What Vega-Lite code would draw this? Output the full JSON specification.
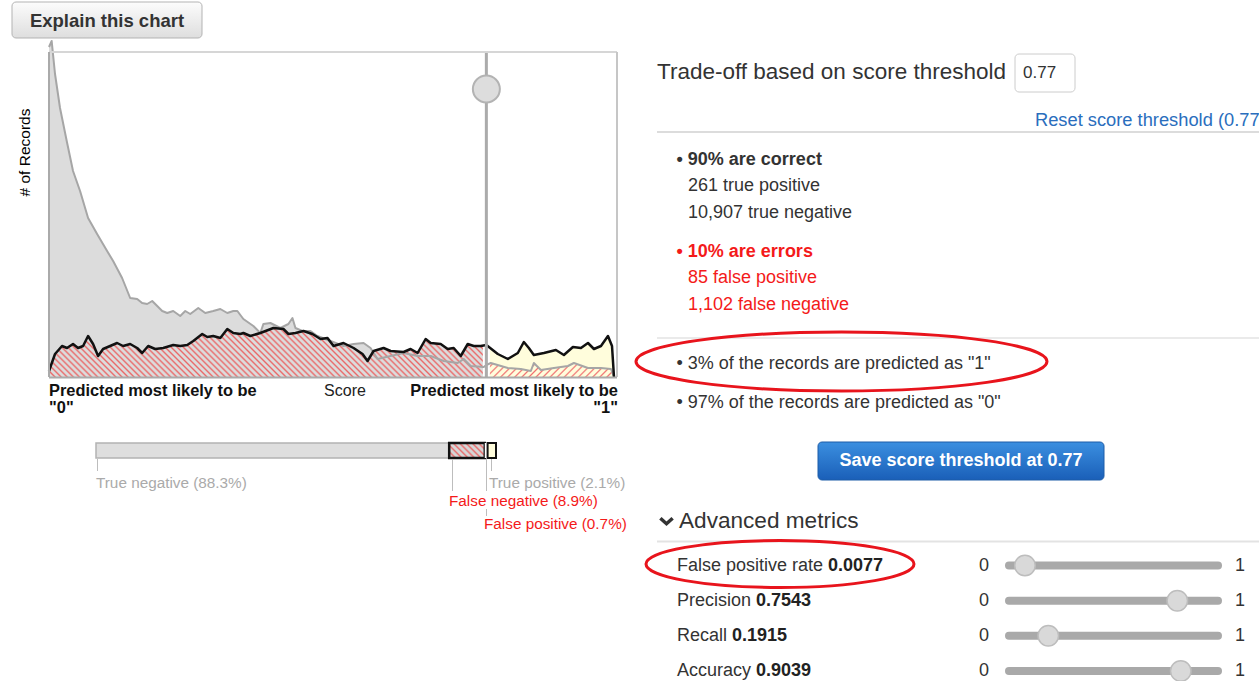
{
  "$schema": "https://vega.github.io/schema/vega-lite/v6.json",
  "width": 1259,
  "height": 681,
  "padding": 0,
  "autosize": {"type": "none"},
  "background": "#ffffff",
  "config": {"view": {"stroke": null}, "font": "Liberation Sans", "axis": {"disable": true}},
  "data": {"values": [{}]},
  "datasets": {
    "neg": [
      {"score": 0, "count": 330}, {"score": 0.0047, "count": 336}, {"score": 0.0106, "count": 303}, {"score": 0.0194, "count": 269},
      {"score": 0.0312, "count": 236}, {"score": 0.0423, "count": 206}, {"score": 0.0547, "count": 186}, {"score": 0.0688, "count": 159},
      {"score": 0.0847, "count": 143}, {"score": 0.1023, "count": 126}, {"score": 0.1129, "count": 116}, {"score": 0.1287, "count": 99},
      {"score": 0.1429, "count": 79}, {"score": 0.1552, "count": 78}, {"score": 0.164, "count": 74}, {"score": 0.1728, "count": 73},
      {"score": 0.1817, "count": 76}, {"score": 0.1905, "count": 71}, {"score": 0.1993, "count": 66}, {"score": 0.2081, "count": 64},
      {"score": 0.2187, "count": 66}, {"score": 0.231, "count": 61}, {"score": 0.2399, "count": 66}, {"score": 0.2487, "count": 63},
      {"score": 0.2628, "count": 69}, {"score": 0.2751, "count": 64}, {"score": 0.2892, "count": 66}, {"score": 0.3016, "count": 68},
      {"score": 0.3139, "count": 64}, {"score": 0.3245, "count": 66}, {"score": 0.3316, "count": 66}, {"score": 0.3422, "count": 58},
      {"score": 0.3598, "count": 51}, {"score": 0.3721, "count": 44}, {"score": 0.3774, "count": 53}, {"score": 0.3898, "count": 54},
      {"score": 0.4074, "count": 49}, {"score": 0.4215, "count": 53}, {"score": 0.4286, "count": 59}, {"score": 0.4339, "count": 49},
      {"score": 0.4462, "count": 46}, {"score": 0.4603, "count": 46}, {"score": 0.4727, "count": 41}, {"score": 0.4956, "count": 36},
      {"score": 0.5185, "count": 31}, {"score": 0.5362, "count": 33}, {"score": 0.5538, "count": 34}, {"score": 0.5661, "count": 29},
      {"score": 0.5785, "count": 18}, {"score": 0.6014, "count": 21}, {"score": 0.6243, "count": 24}, {"score": 0.649, "count": 21},
      {"score": 0.672, "count": 21}, {"score": 0.6949, "count": 16}, {"score": 0.7196, "count": 14}, {"score": 0.7302, "count": 18},
      {"score": 0.7425, "count": 11}, {"score": 0.7654, "count": 10}, {"score": 0.77, "count": 12}, {"score": 0.7778, "count": 14},
      {"score": 0.8078, "count": 9}, {"score": 0.8307, "count": 8}, {"score": 0.8483, "count": 6}, {"score": 0.8536, "count": 14},
      {"score": 0.866, "count": 7}, {"score": 0.8889, "count": 9}, {"score": 0.9136, "count": 11}, {"score": 0.9242, "count": 14},
      {"score": 0.9489, "count": 9}, {"score": 0.9718, "count": 9}, {"score": 0.9894, "count": 8}, {"score": 0.9947, "count": 0}
    ],
    "pos": [
      {"score": 0, "count": 6}, {"score": 0.0106, "count": 23}, {"score": 0.0229, "count": 31}, {"score": 0.0317, "count": 29},
      {"score": 0.0423, "count": 33}, {"score": 0.0511, "count": 29}, {"score": 0.06, "count": 31}, {"score": 0.0688, "count": 41},
      {"score": 0.0776, "count": 33}, {"score": 0.0864, "count": 21}, {"score": 0.0952, "count": 28}, {"score": 0.1076, "count": 31},
      {"score": 0.1199, "count": 34}, {"score": 0.1305, "count": 31}, {"score": 0.1429, "count": 33}, {"score": 0.1552, "count": 29},
      {"score": 0.164, "count": 24}, {"score": 0.1746, "count": 31}, {"score": 0.1869, "count": 28}, {"score": 0.2011, "count": 29},
      {"score": 0.2187, "count": 32}, {"score": 0.231, "count": 31}, {"score": 0.2434, "count": 32}, {"score": 0.254, "count": 36},
      {"score": 0.2698, "count": 43}, {"score": 0.2787, "count": 40}, {"score": 0.2892, "count": 41}, {"score": 0.3016, "count": 39},
      {"score": 0.3139, "count": 48}, {"score": 0.3245, "count": 44}, {"score": 0.3369, "count": 43}, {"score": 0.3422, "count": 44},
      {"score": 0.3545, "count": 41}, {"score": 0.3721, "count": 44}, {"score": 0.3951, "count": 49}, {"score": 0.4127, "count": 48},
      {"score": 0.4215, "count": 43}, {"score": 0.4339, "count": 44}, {"score": 0.448, "count": 46}, {"score": 0.4638, "count": 43},
      {"score": 0.478, "count": 38}, {"score": 0.4903, "count": 39}, {"score": 0.5009, "count": 31}, {"score": 0.5185, "count": 34},
      {"score": 0.5362, "count": 29}, {"score": 0.552, "count": 23}, {"score": 0.5608, "count": 16}, {"score": 0.5714, "count": 26},
      {"score": 0.589, "count": 29}, {"score": 0.6014, "count": 26}, {"score": 0.6243, "count": 25}, {"score": 0.6367, "count": 28},
      {"score": 0.649, "count": 24}, {"score": 0.6631, "count": 38}, {"score": 0.672, "count": 34}, {"score": 0.6896, "count": 33},
      {"score": 0.7019, "count": 28}, {"score": 0.7125, "count": 29}, {"score": 0.7249, "count": 21}, {"score": 0.7372, "count": 33},
      {"score": 0.7478, "count": 31}, {"score": 0.7601, "count": 31}, {"score": 0.77, "count": 32}, {"score": 0.7901, "count": 23},
      {"score": 0.8078, "count": 18}, {"score": 0.8254, "count": 24}, {"score": 0.836, "count": 35}, {"score": 0.8448, "count": 29},
      {"score": 0.8536, "count": 22}, {"score": 0.8713, "count": 24}, {"score": 0.8924, "count": 27}, {"score": 0.9065, "count": 22},
      {"score": 0.9224, "count": 30}, {"score": 0.9365, "count": 29}, {"score": 0.9489, "count": 34}, {"score": 0.9594, "count": 28},
      {"score": 0.9718, "count": 31}, {"score": 0.9841, "count": 41}, {"score": 0.9912, "count": 31}, {"score": 0.9947, "count": 0}
    ],
    "conf": [
      {"cls": "True negative", "pct": 88.3},
      {"cls": "False negative", "pct": 8.9},
      {"cls": "False positive", "pct": 0.7},
      {"cls": "True positive", "pct": 2.1}
    ],
    "metrics": [
      {"metric": "False positive rate", "value": "0.0077", "knob": 0.092},
      {"metric": "Precision", "value": "0.7543", "knob": 0.794},
      {"metric": "Recall", "value": "0.1915", "knob": 0.1995},
      {"metric": "Accuracy", "value": "0.9039", "knob": 0.81}
    ]
  },
  "layer": [
    {
      "layer": [
        {
          "data": {"name": "neg"},
          "transform": [{"filter": "datum.score <= 0.77"}],
          "mark": {"type": "area", "fill": "#dcdcdc"},
          "encoding": {
            "x": {"field": "score", "type": "quantitative", "scale": {"domain": [0, 1], "range": [49, 617], "nice": false, "zero": false}, "axis": null},
            "y": {"field": "count", "type": "quantitative", "scale": {"domain": [0, 324], "range": [377, 53], "nice": false}, "axis": null}
          }
        },
        {
          "data": {"name": "pos"},
          "transform": [{"filter": "datum.score <= 0.77"}],
          "mark": {"type": "area", "fill": {"gradient": "linear", "x1": 0, "y1": 1, "x2": 1.0982, "y2": 0.877, "stops": [
            {"offset":0,"color":"#ea6868"},{"offset":0.004,"color":"#dcdcdc"},{"offset":0.0085,"color":"#dcdcdc"},{"offset":0.0125,"color":"#ea6868"},{"offset":0.0165,"color":"#dcdcdc"},{"offset":0.021,"color":"#dcdcdc"},{"offset":0.025,"color":"#ea6868"},{"offset":0.029,"color":"#dcdcdc"},{"offset":0.0335,"color":"#dcdcdc"},{"offset":0.0375,"color":"#ea6868"},{"offset":0.0415,"color":"#dcdcdc"},{"offset":0.046,"color":"#dcdcdc"},
            {"offset":0.05,"color":"#ea6868"},{"offset":0.054,"color":"#dcdcdc"},{"offset":0.0585,"color":"#dcdcdc"},{"offset":0.0625,"color":"#ea6868"},{"offset":0.0665,"color":"#dcdcdc"},{"offset":0.071,"color":"#dcdcdc"},{"offset":0.075,"color":"#ea6868"},{"offset":0.079,"color":"#dcdcdc"},{"offset":0.0835,"color":"#dcdcdc"},{"offset":0.0875,"color":"#ea6868"},{"offset":0.0915,"color":"#dcdcdc"},{"offset":0.096,"color":"#dcdcdc"},
            {"offset":0.1,"color":"#ea6868"},{"offset":0.104,"color":"#dcdcdc"},{"offset":0.1085,"color":"#dcdcdc"},{"offset":0.1125,"color":"#ea6868"},{"offset":0.1165,"color":"#dcdcdc"},{"offset":0.121,"color":"#dcdcdc"},{"offset":0.125,"color":"#ea6868"},{"offset":0.129,"color":"#dcdcdc"},{"offset":0.1335,"color":"#dcdcdc"},{"offset":0.1375,"color":"#ea6868"},{"offset":0.1415,"color":"#dcdcdc"},{"offset":0.146,"color":"#dcdcdc"},
            {"offset":0.15,"color":"#ea6868"},{"offset":0.154,"color":"#dcdcdc"},{"offset":0.1585,"color":"#dcdcdc"},{"offset":0.1625,"color":"#ea6868"},{"offset":0.1665,"color":"#dcdcdc"},{"offset":0.171,"color":"#dcdcdc"},{"offset":0.175,"color":"#ea6868"},{"offset":0.179,"color":"#dcdcdc"},{"offset":0.1835,"color":"#dcdcdc"},{"offset":0.1875,"color":"#ea6868"},{"offset":0.1915,"color":"#dcdcdc"},{"offset":0.196,"color":"#dcdcdc"},
            {"offset":0.2,"color":"#ea6868"},{"offset":0.204,"color":"#dcdcdc"},{"offset":0.2085,"color":"#dcdcdc"},{"offset":0.2125,"color":"#ea6868"},{"offset":0.2165,"color":"#dcdcdc"},{"offset":0.221,"color":"#dcdcdc"},{"offset":0.225,"color":"#ea6868"},{"offset":0.229,"color":"#dcdcdc"},{"offset":0.2335,"color":"#dcdcdc"},{"offset":0.2375,"color":"#ea6868"},{"offset":0.2415,"color":"#dcdcdc"},{"offset":0.246,"color":"#dcdcdc"},
            {"offset":0.25,"color":"#ea6868"},{"offset":0.254,"color":"#dcdcdc"},{"offset":0.2585,"color":"#dcdcdc"},{"offset":0.2625,"color":"#ea6868"},{"offset":0.2665,"color":"#dcdcdc"},{"offset":0.271,"color":"#dcdcdc"},{"offset":0.275,"color":"#ea6868"},{"offset":0.279,"color":"#dcdcdc"},{"offset":0.2835,"color":"#dcdcdc"},{"offset":0.2875,"color":"#ea6868"},{"offset":0.2915,"color":"#dcdcdc"},{"offset":0.296,"color":"#dcdcdc"},
            {"offset":0.3,"color":"#ea6868"},{"offset":0.304,"color":"#dcdcdc"},{"offset":0.3085,"color":"#dcdcdc"},{"offset":0.3125,"color":"#ea6868"},{"offset":0.3165,"color":"#dcdcdc"},{"offset":0.321,"color":"#dcdcdc"},{"offset":0.325,"color":"#ea6868"},{"offset":0.329,"color":"#dcdcdc"},{"offset":0.3335,"color":"#dcdcdc"},{"offset":0.3375,"color":"#ea6868"},{"offset":0.3415,"color":"#dcdcdc"},{"offset":0.346,"color":"#dcdcdc"},
            {"offset":0.35,"color":"#ea6868"},{"offset":0.354,"color":"#dcdcdc"},{"offset":0.3585,"color":"#dcdcdc"},{"offset":0.3625,"color":"#ea6868"},{"offset":0.3665,"color":"#dcdcdc"},{"offset":0.371,"color":"#dcdcdc"},{"offset":0.375,"color":"#ea6868"},{"offset":0.379,"color":"#dcdcdc"},{"offset":0.3835,"color":"#dcdcdc"},{"offset":0.3875,"color":"#ea6868"},{"offset":0.3915,"color":"#dcdcdc"},{"offset":0.396,"color":"#dcdcdc"},
            {"offset":0.4,"color":"#ea6868"},{"offset":0.404,"color":"#dcdcdc"},{"offset":0.4085,"color":"#dcdcdc"},{"offset":0.4125,"color":"#ea6868"},{"offset":0.4165,"color":"#dcdcdc"},{"offset":0.421,"color":"#dcdcdc"},{"offset":0.425,"color":"#ea6868"},{"offset":0.429,"color":"#dcdcdc"},{"offset":0.4335,"color":"#dcdcdc"},{"offset":0.4375,"color":"#ea6868"},{"offset":0.4415,"color":"#dcdcdc"},{"offset":0.446,"color":"#dcdcdc"},
            {"offset":0.45,"color":"#ea6868"},{"offset":0.454,"color":"#dcdcdc"},{"offset":0.4585,"color":"#dcdcdc"},{"offset":0.4625,"color":"#ea6868"},{"offset":0.4665,"color":"#dcdcdc"},{"offset":0.471,"color":"#dcdcdc"},{"offset":0.475,"color":"#ea6868"},{"offset":0.479,"color":"#dcdcdc"},{"offset":0.4835,"color":"#dcdcdc"},{"offset":0.4875,"color":"#ea6868"},{"offset":0.4915,"color":"#dcdcdc"},{"offset":0.496,"color":"#dcdcdc"},
            {"offset":0.5,"color":"#ea6868"},{"offset":0.504,"color":"#dcdcdc"},{"offset":0.5085,"color":"#dcdcdc"},{"offset":0.5125,"color":"#ea6868"},{"offset":0.5165,"color":"#dcdcdc"},{"offset":0.521,"color":"#dcdcdc"},{"offset":0.525,"color":"#ea6868"},{"offset":0.529,"color":"#dcdcdc"},{"offset":0.5335,"color":"#dcdcdc"},{"offset":0.5375,"color":"#ea6868"},{"offset":0.5415,"color":"#dcdcdc"},{"offset":0.546,"color":"#dcdcdc"},
            {"offset":0.55,"color":"#ea6868"},{"offset":0.554,"color":"#dcdcdc"},{"offset":0.5585,"color":"#dcdcdc"},{"offset":0.5625,"color":"#ea6868"},{"offset":0.5665,"color":"#dcdcdc"},{"offset":0.571,"color":"#dcdcdc"},{"offset":0.575,"color":"#ea6868"},{"offset":0.579,"color":"#dcdcdc"},{"offset":0.5835,"color":"#dcdcdc"},{"offset":0.5875,"color":"#ea6868"},{"offset":0.5915,"color":"#dcdcdc"},{"offset":0.596,"color":"#dcdcdc"},
            {"offset":0.6,"color":"#ea6868"},{"offset":0.604,"color":"#dcdcdc"},{"offset":0.6085,"color":"#dcdcdc"},{"offset":0.6125,"color":"#ea6868"},{"offset":0.6165,"color":"#dcdcdc"},{"offset":0.621,"color":"#dcdcdc"},{"offset":0.625,"color":"#ea6868"},{"offset":0.629,"color":"#dcdcdc"},{"offset":0.6335,"color":"#dcdcdc"},{"offset":0.6375,"color":"#ea6868"},{"offset":0.6415,"color":"#dcdcdc"},{"offset":0.646,"color":"#dcdcdc"},
            {"offset":0.65,"color":"#ea6868"},{"offset":0.654,"color":"#dcdcdc"},{"offset":0.6585,"color":"#dcdcdc"},{"offset":0.6625,"color":"#ea6868"},{"offset":0.6665,"color":"#dcdcdc"},{"offset":0.671,"color":"#dcdcdc"},{"offset":0.675,"color":"#ea6868"},{"offset":0.679,"color":"#dcdcdc"},{"offset":0.6835,"color":"#dcdcdc"},{"offset":0.6875,"color":"#ea6868"},{"offset":0.6915,"color":"#dcdcdc"},{"offset":0.696,"color":"#dcdcdc"},
            {"offset":0.7,"color":"#ea6868"},{"offset":0.704,"color":"#dcdcdc"},{"offset":0.7085,"color":"#dcdcdc"},{"offset":0.7125,"color":"#ea6868"},{"offset":0.7165,"color":"#dcdcdc"},{"offset":0.721,"color":"#dcdcdc"},{"offset":0.725,"color":"#ea6868"},{"offset":0.729,"color":"#dcdcdc"},{"offset":0.7335,"color":"#dcdcdc"},{"offset":0.7375,"color":"#ea6868"},{"offset":0.7415,"color":"#dcdcdc"},{"offset":0.746,"color":"#dcdcdc"},
            {"offset":0.75,"color":"#ea6868"},{"offset":0.754,"color":"#dcdcdc"},{"offset":0.7585,"color":"#dcdcdc"},{"offset":0.7625,"color":"#ea6868"},{"offset":0.7665,"color":"#dcdcdc"},{"offset":0.771,"color":"#dcdcdc"},{"offset":0.775,"color":"#ea6868"},{"offset":0.779,"color":"#dcdcdc"},{"offset":0.7835,"color":"#dcdcdc"},{"offset":0.7875,"color":"#ea6868"},{"offset":0.7915,"color":"#dcdcdc"},{"offset":0.796,"color":"#dcdcdc"},
            {"offset":0.8,"color":"#ea6868"},{"offset":0.804,"color":"#dcdcdc"},{"offset":0.8085,"color":"#dcdcdc"},{"offset":0.8125,"color":"#ea6868"},{"offset":0.8165,"color":"#dcdcdc"},{"offset":0.821,"color":"#dcdcdc"},{"offset":0.825,"color":"#ea6868"},{"offset":0.829,"color":"#dcdcdc"},{"offset":0.8335,"color":"#dcdcdc"},{"offset":0.8375,"color":"#ea6868"},{"offset":0.8415,"color":"#dcdcdc"},{"offset":0.846,"color":"#dcdcdc"},
            {"offset":0.85,"color":"#ea6868"},{"offset":0.854,"color":"#dcdcdc"},{"offset":0.8585,"color":"#dcdcdc"},{"offset":0.8625,"color":"#ea6868"},{"offset":0.8665,"color":"#dcdcdc"},{"offset":0.871,"color":"#dcdcdc"},{"offset":0.875,"color":"#ea6868"},{"offset":0.879,"color":"#dcdcdc"},{"offset":0.8835,"color":"#dcdcdc"},{"offset":0.8875,"color":"#ea6868"},{"offset":0.8915,"color":"#dcdcdc"},{"offset":0.896,"color":"#dcdcdc"},
            {"offset":0.9,"color":"#ea6868"},{"offset":0.904,"color":"#dcdcdc"},{"offset":0.9085,"color":"#dcdcdc"},{"offset":0.9125,"color":"#ea6868"},{"offset":0.9165,"color":"#dcdcdc"},{"offset":0.921,"color":"#dcdcdc"},{"offset":0.925,"color":"#ea6868"},{"offset":0.929,"color":"#dcdcdc"},{"offset":0.9335,"color":"#dcdcdc"},{"offset":0.9375,"color":"#ea6868"},{"offset":0.9415,"color":"#dcdcdc"},{"offset":0.946,"color":"#dcdcdc"},
            {"offset":0.95,"color":"#ea6868"},{"offset":0.954,"color":"#dcdcdc"},{"offset":0.9585,"color":"#dcdcdc"},{"offset":0.9625,"color":"#ea6868"},{"offset":0.9665,"color":"#dcdcdc"},{"offset":0.971,"color":"#dcdcdc"},{"offset":0.975,"color":"#ea6868"},{"offset":0.979,"color":"#dcdcdc"},{"offset":0.9835,"color":"#dcdcdc"},{"offset":0.9875,"color":"#ea6868"},{"offset":0.9915,"color":"#dcdcdc"},{"offset":0.996,"color":"#dcdcdc"},
            {"offset":1,"color":"#ea6868"}
          ]}},
          "encoding": {"x": {"field": "score", "type": "quantitative"}, "y": {"field": "count", "type": "quantitative"}}
        },
        {
          "data": {"name": "pos"},
          "transform": [{"filter": "datum.score >= 0.77"}],
          "mark": {"type": "area", "fill": "#fffddc"},
          "encoding": {"x": {"field": "score", "type": "quantitative"}, "y": {"field": "count", "type": "quantitative"}}
        },
        {
          "data": {"name": "neg"},
          "transform": [{"filter": "datum.score >= 0.77"}],
          "mark": {"type": "area", "fill": {"gradient": "linear", "x1": 0, "y1": 0, "x2": 1.0965, "y2": 0.1203, "stops": [
            {"offset":0,"color":"#f07070"},{"offset":0.012,"color":"#fffddc"},{"offset":0.038,"color":"#fffddc"},
            {"offset":0.05,"color":"#f07070"},{"offset":0.062,"color":"#fffddc"},{"offset":0.088,"color":"#fffddc"},
            {"offset":0.1,"color":"#f07070"},{"offset":0.112,"color":"#fffddc"},{"offset":0.138,"color":"#fffddc"},
            {"offset":0.15,"color":"#f07070"},{"offset":0.162,"color":"#fffddc"},{"offset":0.188,"color":"#fffddc"},
            {"offset":0.2,"color":"#f07070"},{"offset":0.212,"color":"#fffddc"},{"offset":0.238,"color":"#fffddc"},
            {"offset":0.25,"color":"#f07070"},{"offset":0.262,"color":"#fffddc"},{"offset":0.288,"color":"#fffddc"},
            {"offset":0.3,"color":"#f07070"},{"offset":0.312,"color":"#fffddc"},{"offset":0.338,"color":"#fffddc"},
            {"offset":0.35,"color":"#f07070"},{"offset":0.362,"color":"#fffddc"},{"offset":0.388,"color":"#fffddc"},
            {"offset":0.4,"color":"#f07070"},{"offset":0.412,"color":"#fffddc"},{"offset":0.438,"color":"#fffddc"},
            {"offset":0.45,"color":"#f07070"},{"offset":0.462,"color":"#fffddc"},{"offset":0.488,"color":"#fffddc"},
            {"offset":0.5,"color":"#f07070"},{"offset":0.512,"color":"#fffddc"},{"offset":0.538,"color":"#fffddc"},
            {"offset":0.55,"color":"#f07070"},{"offset":0.562,"color":"#fffddc"},{"offset":0.588,"color":"#fffddc"},
            {"offset":0.6,"color":"#f07070"},{"offset":0.612,"color":"#fffddc"},{"offset":0.638,"color":"#fffddc"},
            {"offset":0.65,"color":"#f07070"},{"offset":0.662,"color":"#fffddc"},{"offset":0.688,"color":"#fffddc"},
            {"offset":0.7,"color":"#f07070"},{"offset":0.712,"color":"#fffddc"},{"offset":0.738,"color":"#fffddc"},
            {"offset":0.75,"color":"#f07070"},{"offset":0.762,"color":"#fffddc"},{"offset":0.788,"color":"#fffddc"},
            {"offset":0.8,"color":"#f07070"},{"offset":0.812,"color":"#fffddc"},{"offset":0.838,"color":"#fffddc"},
            {"offset":0.85,"color":"#f07070"},{"offset":0.862,"color":"#fffddc"},{"offset":0.888,"color":"#fffddc"},
            {"offset":0.9,"color":"#f07070"},{"offset":0.912,"color":"#fffddc"},{"offset":0.938,"color":"#fffddc"},
            {"offset":0.95,"color":"#f07070"},{"offset":0.962,"color":"#fffddc"},{"offset":0.988,"color":"#fffddc"},
            {"offset":1,"color":"#f07070"}
          ]}},
          "encoding": {"x": {"field": "score", "type": "quantitative"}, "y": {"field": "count", "type": "quantitative"}}
        },
        {
          "mark": {"type": "rule", "color": "#ffffff", "strokeWidth": 7},
          "encoding": {"x": {"datum": 0.77}, "y": {"datum": 0}, "y2": {"datum": 70}}
        },
        {
          "data": {"name": "neg"},
          "mark": {"type": "line", "color": "#a6a6a6", "strokeWidth": 2, "strokeJoin": "round"},
          "encoding": {"x": {"field": "score", "type": "quantitative"}, "y": {"field": "count", "type": "quantitative"}}
        },
        {
          "data": {"name": "pos"},
          "mark": {"type": "line", "color": "#111111", "strokeWidth": 2.5, "strokeJoin": "round"},
          "encoding": {"x": {"field": "score", "type": "quantitative"}, "y": {"field": "count", "type": "quantitative"}}
        },
        {
          "mark": {"type": "rule", "color": "#ababab", "strokeWidth": 3},
          "encoding": {"x": {"datum": 0.77}, "y": {"datum": 0}, "y2": {"datum": 324}}
        },
        {
          "mark": {"type": "point", "shape": "circle", "size": 729, "filled": true, "fill": "#dddddd", "stroke": "#b3b3b3", "strokeWidth": 2, "opacity": 1},
          "encoding": {"x": {"datum": 0.77}, "y": {"datum": 288}}
        }
      ]
    },
    {
      "data": {"name": "conf"},
      "transform": [{"stack": "pct", "groupby": [], "as": ["p0", "p1"]}],
      "layer": [
        {
          "transform": [{"filter": "datum.cls == 'True negative'"}],
          "mark": {"type": "rect", "fill": "#dedede", "stroke": "#b3b3b3", "strokeWidth": 1.5},
          "encoding": {
            "x": {"field": "p0", "type": "quantitative", "scale": {"domain": [0, 100], "range": [96, 496], "nice": false, "zero": false}, "axis": null},
            "x2": {"field": "p1"},
            "y": {"datum": 443, "type": "quantitative", "scale": {"domain": [0, 681], "range": [0, 681], "nice": false, "zero": false}, "axis": null},
            "y2": {"datum": 458}
          }
        },
        {
          "transform": [{"filter": "datum.cls == 'False negative'"}],
          "mark": {"type": "rect", "stroke": "#111111", "strokeWidth": 2.5, "fill": {"gradient": "linear", "x1": 0, "y1": 1, "x2": 1.207, "y2": 0.4915, "stops": [
            {"offset":0,"color":"#e86a6a"},{"offset":0.04,"color":"#d6d6d6"},{"offset":0.085,"color":"#d6d6d6"},
            {"offset":0.125,"color":"#e86a6a"},{"offset":0.165,"color":"#d6d6d6"},{"offset":0.21,"color":"#d6d6d6"},
            {"offset":0.25,"color":"#e86a6a"},{"offset":0.29,"color":"#d6d6d6"},{"offset":0.335,"color":"#d6d6d6"},
            {"offset":0.375,"color":"#e86a6a"},{"offset":0.415,"color":"#d6d6d6"},{"offset":0.46,"color":"#d6d6d6"},
            {"offset":0.5,"color":"#e86a6a"},{"offset":0.54,"color":"#d6d6d6"},{"offset":0.585,"color":"#d6d6d6"},
            {"offset":0.625,"color":"#e86a6a"},{"offset":0.665,"color":"#d6d6d6"},{"offset":0.71,"color":"#d6d6d6"},
            {"offset":0.75,"color":"#e86a6a"},{"offset":0.79,"color":"#d6d6d6"},{"offset":0.835,"color":"#d6d6d6"},
            {"offset":0.875,"color":"#e86a6a"},{"offset":0.915,"color":"#d6d6d6"},{"offset":0.96,"color":"#d6d6d6"},
            {"offset":1,"color":"#e86a6a"}
          ]}},
          "encoding": {"x": {"field": "p0", "type": "quantitative"}, "x2": {"field": "p1"}, "y": {"datum": 443}, "y2": {"datum": 458}}
        },
        {
          "transform": [{"filter": "datum.cls == 'False positive'"}],
          "mark": {"type": "rect", "fill": "#ffffff"},
          "encoding": {"x": {"field": "p0", "type": "quantitative"}, "x2": {"field": "p1"}, "y": {"datum": 443}, "y2": {"datum": 458}}
        },
        {
          "transform": [{"filter": "datum.cls == 'True positive'"}],
          "mark": {"type": "rect", "fill": "#fffddc", "stroke": "#111111", "strokeWidth": 2},
          "encoding": {"x": {"field": "p0", "type": "quantitative"}, "x2": {"field": "p1"}, "y": {"datum": 443}, "y2": {"datum": 458}}
        }
      ]
    },
    {
      "data": {"name": "metrics"},
      "layer": [
        {
          "mark": {"type": "text", "align": "left", "baseline": "middle", "fontSize": 18, "color": "#333333"},
          "encoding": {
            "x": {"datum": 677, "type": "quantitative", "scale": {"domain": [0, 1259], "range": [0, 1259], "nice": false, "zero": false}, "axis": null},
            "y": {"field": "metric", "type": "nominal", "scale": {"type": "point", "domain": ["False positive rate", "Precision", "Recall", "Accuracy"], "range": [565.5, 671], "padding": 0}, "axis": null},
            "text": {"field": "metric"}
          }
        },
        {
          "transform": [{"filter": "datum.metric == 'False positive rate'"}],
          "mark": {"type": "text", "align": "left", "baseline": "middle", "fontSize": 18, "fontWeight": "bold", "color": "#222222"},
          "encoding": {"x": {"datum": 828}, "y": {"field": "metric", "type": "nominal"}, "text": {"field": "value"}}
        },
        {
          "transform": [{"filter": "datum.metric == 'Precision'"}],
          "mark": {"type": "text", "align": "left", "baseline": "middle", "fontSize": 18, "fontWeight": "bold", "color": "#222222"},
          "encoding": {"x": {"datum": 756}, "y": {"field": "metric", "type": "nominal"}, "text": {"field": "value"}}
        },
        {
          "transform": [{"filter": "datum.metric == 'Recall'"}],
          "mark": {"type": "text", "align": "left", "baseline": "middle", "fontSize": 18, "fontWeight": "bold", "color": "#222222"},
          "encoding": {"x": {"datum": 732}, "y": {"field": "metric", "type": "nominal"}, "text": {"field": "value"}}
        },
        {
          "transform": [{"filter": "datum.metric == 'Accuracy'"}],
          "mark": {"type": "text", "align": "left", "baseline": "middle", "fontSize": 18, "fontWeight": "bold", "color": "#222222"},
          "encoding": {"x": {"datum": 756}, "y": {"field": "metric", "type": "nominal"}, "text": {"field": "value"}}
        }
      ]
    },
    {
      "data": {"name": "metrics"},
      "layer": [
        {
          "mark": {"type": "rule", "color": "#a9a9a9", "strokeWidth": 8, "strokeCap": "round"},
          "encoding": {
            "x": {"datum": 0.0184, "type": "quantitative", "scale": {"domain": [0, 1], "range": [1005, 1222], "nice": false, "zero": false}, "axis": null},
            "x2": {"datum": 0.9816},
            "y": {"field": "metric", "type": "nominal", "scale": {"type": "point", "domain": ["False positive rate", "Precision", "Recall", "Accuracy"], "range": [565.5, 671], "padding": 0}, "axis": null}
          }
        },
        {
          "mark": {"type": "point", "shape": "circle", "size": 420, "filled": true, "fill": "#d9d9d9", "stroke": "#bdbdbd", "strokeWidth": 1.5, "opacity": 1},
          "encoding": {"x": {"field": "knob", "type": "quantitative"}, "y": {"field": "metric", "type": "nominal"}}
        },
        {
          "mark": {"type": "text", "text": "0", "fontSize": 18, "color": "#333333", "align": "center", "baseline": "middle"},
          "encoding": {"x": {"datum": -0.0968}, "y": {"field": "metric", "type": "nominal"}}
        },
        {
          "mark": {"type": "text", "text": "1", "fontSize": 18, "color": "#333333", "align": "center", "baseline": "middle"},
          "encoding": {"x": {"datum": 1.083}, "y": {"field": "metric", "type": "nominal"}}
        }
      ]
    },
    {
      "layer": [
        {
          "mark": {"type": "rect", "cornerRadius": 4, "stroke": "#b3b3b3", "strokeWidth": 1, "fill": {"gradient": "linear", "x1": 0, "y1": 0, "x2": 0, "y2": 1, "stops": [{"offset": 0, "color": "#fcfcfc"}, {"offset": 1, "color": "#dedede"}]}},
          "encoding": {
            "x": {"datum": 12, "type": "quantitative", "scale": {"domain": [0, 1259], "range": [0, 1259], "nice": false, "zero": false}, "axis": null},
            "x2": {"datum": 202},
            "y": {"datum": 2, "type": "quantitative", "scale": {"domain": [0, 681], "range": [0, 681], "nice": false, "zero": false}, "axis": null},
            "y2": {"datum": 38}
          }
        },
        {"mark": {"type": "text", "text": "Explain this chart", "fontSize": 18.5, "fontWeight": "bold", "color": "#333333", "align": "center", "baseline": "middle"}, "encoding": {"x": {"datum": 107}, "y": {"datum": 20.5}}},
        {"mark": {"type": "text", "text": "# of Records", "fontSize": 15.5, "color": "#000000", "angle": 270, "align": "center", "baseline": "middle"}, "encoding": {"x": {"datum": 25}, "y": {"datum": 152.5}}},
        {"mark": {"type": "rule", "color": "#d6d6d6", "strokeWidth": 2}, "encoding": {"x": {"datum": 49}, "x2": {"datum": 617}, "y": {"datum": 52}}},
        {"mark": {"type": "rule", "color": "#c6c6c6", "strokeWidth": 2}, "encoding": {"x": {"datum": 617}, "y": {"datum": 52}, "y2": {"datum": 377}}},
        {"mark": {"type": "rule", "color": "#aaaaaa", "strokeWidth": 2}, "encoding": {"x": {"datum": 49}, "y": {"datum": 52}, "y2": {"datum": 377}}},
        {"mark": {"type": "rule", "color": "#aaaaaa", "strokeWidth": 2}, "encoding": {"x": {"datum": 49}, "x2": {"datum": 617}, "y": {"datum": 377.5}}},
        {"mark": {"type": "text", "text": "Predicted most likely to be", "fontSize": 16.4, "fontWeight": "bold", "color": "#111111", "align": "left", "baseline": "middle"}, "encoding": {"x": {"datum": 49}, "y": {"datum": 391}}},
        {"mark": {"type": "text", "text": "\"0\"", "fontSize": 16.4, "fontWeight": "bold", "color": "#111111", "align": "left", "baseline": "middle"}, "encoding": {"x": {"datum": 49}, "y": {"datum": 408}}},
        {"mark": {"type": "text", "text": "Score", "fontSize": 16, "color": "#222222", "align": "center", "baseline": "middle"}, "encoding": {"x": {"datum": 345}, "y": {"datum": 391}}},
        {"mark": {"type": "text", "text": "Predicted most likely to be", "fontSize": 16.4, "fontWeight": "bold", "color": "#111111", "align": "right", "baseline": "middle"}, "encoding": {"x": {"datum": 618}, "y": {"datum": 391}}},
        {"mark": {"type": "text", "text": "\"1\"", "fontSize": 16.4, "fontWeight": "bold", "color": "#111111", "align": "right", "baseline": "middle"}, "encoding": {"x": {"datum": 618}, "y": {"datum": 408}}},
        {"mark": {"type": "rule", "color": "#bdbdbd", "strokeWidth": 1}, "encoding": {"x": {"datum": 97.5}, "y": {"datum": 459}, "y2": {"datum": 471}}},
        {"mark": {"type": "rule", "color": "#bdbdbd", "strokeWidth": 1}, "encoding": {"x": {"datum": 452.5}, "y": {"datum": 459}, "y2": {"datum": 491}}},
        {"mark": {"type": "rule", "color": "#bdbdbd", "strokeWidth": 1}, "encoding": {"x": {"datum": 486.5}, "y": {"datum": 459}, "y2": {"datum": 491}}},
        {"mark": {"type": "rule", "color": "#bdbdbd", "strokeWidth": 1}, "encoding": {"x": {"datum": 486.5}, "y": {"datum": 509}, "y2": {"datum": 516}}},
        {"mark": {"type": "rule", "color": "#bdbdbd", "strokeWidth": 1}, "encoding": {"x": {"datum": 491.5}, "y": {"datum": 459}, "y2": {"datum": 471}}},
        {"mark": {"type": "text", "text": "True negative (88.3%)", "fontSize": 15.3, "color": "#aaaaaa", "align": "left", "baseline": "middle"}, "encoding": {"x": {"datum": 96}, "y": {"datum": 483}}},
        {"mark": {"type": "text", "text": "True positive (2.1%)", "fontSize": 15.3, "color": "#aaaaaa", "align": "left", "baseline": "middle"}, "encoding": {"x": {"datum": 489}, "y": {"datum": 483}}},
        {"mark": {"type": "text", "text": "False negative (8.9%)", "fontSize": 15.3, "color": "#f41a1a", "align": "left", "baseline": "middle"}, "encoding": {"x": {"datum": 449}, "y": {"datum": 501}}},
        {"mark": {"type": "text", "text": "False positive (0.7%)", "fontSize": 15.3, "color": "#f41a1a", "align": "left", "baseline": "middle"}, "encoding": {"x": {"datum": 484}, "y": {"datum": 524}}},
        {"mark": {"type": "text", "text": "Trade-off based on score threshold", "fontSize": 22.5, "color": "#333333", "align": "left", "baseline": "middle"}, "encoding": {"x": {"datum": 657}, "y": {"datum": 71.5}}},
        {"mark": {"type": "rect", "cornerRadius": 4, "fill": "#ffffff", "stroke": "#cccccc", "strokeWidth": 1}, "encoding": {"x": {"datum": 1015}, "x2": {"datum": 1075}, "y": {"datum": 54}, "y2": {"datum": 92}}},
        {"mark": {"type": "text", "text": "0.77", "fontSize": 17, "color": "#333333", "align": "left", "baseline": "middle"}, "encoding": {"x": {"datum": 1023}, "y": {"datum": 73}}},
        {"mark": {"type": "text", "text": "Reset score threshold (0.77", "fontSize": 18.3, "color": "#2a6ebd", "align": "left", "baseline": "middle"}, "encoding": {"x": {"datum": 1035}, "y": {"datum": 121}}},
        {"mark": {"type": "rule", "color": "#dcdcdc", "strokeWidth": 2}, "encoding": {"x": {"datum": 657}, "x2": {"datum": 1259}, "y": {"datum": 132}}},
        {"mark": {"type": "text", "text": "• 90% are correct", "fontSize": 18, "fontWeight": "bold", "color": "#333333", "align": "left", "baseline": "middle"}, "encoding": {"x": {"datum": 676.5}, "y": {"datum": 159.5}}},
        {"mark": {"type": "text", "text": "261 true positive", "fontSize": 18, "color": "#333333", "align": "left", "baseline": "middle"}, "encoding": {"x": {"datum": 688}, "y": {"datum": 185.5}}},
        {"mark": {"type": "text", "text": "10,907 true negative", "fontSize": 18, "color": "#333333", "align": "left", "baseline": "middle"}, "encoding": {"x": {"datum": 688}, "y": {"datum": 212.5}}},
        {"mark": {"type": "text", "text": "• 10% are errors", "fontSize": 18, "fontWeight": "bold", "color": "#f41a1a", "align": "left", "baseline": "middle"}, "encoding": {"x": {"datum": 676.5}, "y": {"datum": 252}}},
        {"mark": {"type": "text", "text": "85 false positive", "fontSize": 18, "color": "#f41a1a", "align": "left", "baseline": "middle"}, "encoding": {"x": {"datum": 688}, "y": {"datum": 277.5}}},
        {"mark": {"type": "text", "text": "1,102 false negative", "fontSize": 18, "color": "#f41a1a", "align": "left", "baseline": "middle"}, "encoding": {"x": {"datum": 688}, "y": {"datum": 304.5}}},
        {"mark": {"type": "rule", "color": "#e3e3e3", "strokeWidth": 1.5}, "encoding": {"x": {"datum": 657}, "x2": {"datum": 1259}, "y": {"datum": 338}}},
        {"mark": {"type": "text", "text": "• 3% of the records are predicted as \"1\"", "fontSize": 18, "color": "#333333", "align": "left", "baseline": "middle"}, "encoding": {"x": {"datum": 676.5}, "y": {"datum": 364}}},
        {"mark": {"type": "text", "text": "• 97% of the records are predicted as \"0\"", "fontSize": 18, "color": "#333333", "align": "left", "baseline": "middle"}, "encoding": {"x": {"datum": 676.5}, "y": {"datum": 402.5}}},
        {"mark": {"type": "rect", "cornerRadius": 4, "stroke": "#1d5ca8", "strokeWidth": 1, "fill": {"gradient": "linear", "x1": 0, "y1": 0, "x2": 0, "y2": 1, "stops": [{"offset": 0, "color": "#3b8fe0"}, {"offset": 1, "color": "#1a5fb8"}]}}, "encoding": {"x": {"datum": 818}, "x2": {"datum": 1104}, "y": {"datum": 442}, "y2": {"datum": 480}}},
        {"mark": {"type": "text", "text": "Save score threshold at 0.77", "fontSize": 18, "fontWeight": "bold", "color": "#ffffff", "align": "center", "baseline": "middle"}, "encoding": {"x": {"datum": 961}, "y": {"datum": 461}}},
        {"mark": {"type": "point", "shape": "M-1,-0.45L0,0.45L1,-0.45", "size": 150, "filled": false, "stroke": "#333333", "strokeWidth": 3.5, "opacity": 1}, "encoding": {"x": {"datum": 666.5}, "y": {"datum": 521}}},
        {"mark": {"type": "text", "text": "Advanced metrics", "fontSize": 22.6, "color": "#333333", "align": "left", "baseline": "middle"}, "encoding": {"x": {"datum": 679}, "y": {"datum": 520.5}}},
        {"mark": {"type": "rule", "color": "#e3e3e3", "strokeWidth": 2}, "encoding": {"x": {"datum": 657}, "x2": {"datum": 1259}, "y": {"datum": 541.5}}},
        {"mark": {"type": "point", "shape": "M-1,0C-1,-0.0793,-0.5523,-0.1436,0,-0.1436C0.5523,-0.1436,1,-0.0793,1,0C1,0.0793,0.5523,0.1436,0,0.1436C-0.5523,0.1436,-1,0.0793,-1,0Z", "size": 168921, "filled": false, "stroke": "#e8141c", "strokeWidth": 3, "opacity": 1}, "encoding": {"x": {"datum": 841.5}, "y": {"datum": 361.5}}},
        {"mark": {"type": "point", "shape": "M-1,0C-1,-0.0969,-0.5523,-0.1754,0,-0.1754C0.5523,-0.1754,1,-0.0969,1,0C1,0.0969,0.5523,0.1754,0,0.1754C-0.5523,0.1754,-1,0.0969,-1,0Z", "size": 71824, "filled": false, "stroke": "#e8141c", "strokeWidth": 3, "opacity": 1}, "encoding": {"x": {"datum": 780}, "y": {"datum": 564}}}
      ]
    }
  ],
  "resolve": {"scale": {"x": "independent", "y": "independent"}}
}
